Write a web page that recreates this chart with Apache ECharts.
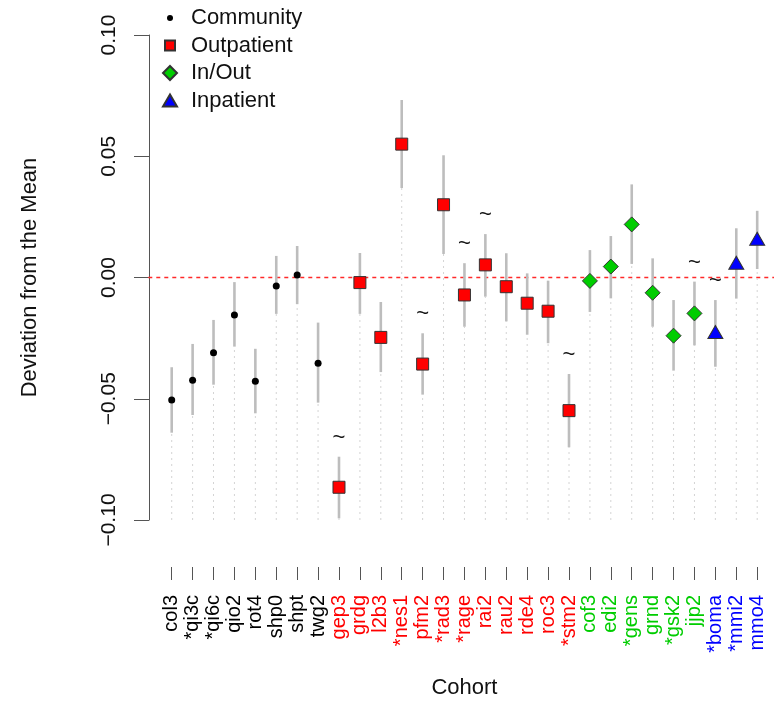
<!DOCTYPE html>
<html>
<head>
<meta charset="utf-8">
<script src="https://cdn.jsdelivr.net/npm/echarts@6/dist/echarts.min.js"></script>
<style>
html,body{margin:0;padding:0;background:#fff;}
#chart{width:774px;height:704px;}
</style>
</head>
<body>
<div id="chart"></div>
<script>
// ---- data ----
const categories = ['col3','*qi3c','*qi6c','qio2','rot4','shp0','shpt','twg2',
  'gep3','grdg','l2b3','*nes1','pfm2','*rad3','*rage','rai2','rau2','rde4','roc3','*stm2',
  'cof3','edi2','*gens','grnd','*gsk2','jjp2',
  '*boma','*mmi2','mmo4'];
const groups = ['Community','Community','Community','Community','Community','Community','Community','Community',
  'Outpatient','Outpatient','Outpatient','Outpatient','Outpatient','Outpatient','Outpatient','Outpatient','Outpatient','Outpatient','Outpatient','Outpatient',
  'In/Out','In/Out','In/Out','In/Out','In/Out','In/Out',
  'Inpatient','Inpatient','Inpatient'];
const deviation = [-0.0505,-0.0424,-0.0310,-0.0155,-0.0428,-0.0035,0.0010,-0.0354,
  -0.0865,-0.0021,-0.0247,0.0550,-0.0357,0.0300,-0.0072,0.0052,-0.0038,-0.0106,-0.0139,-0.0549,
  -0.0014,0.0045,0.0219,-0.0063,-0.0240,-0.0148,
  -0.0225,0.0061,0.0160];
const lower = [-0.0640,-0.0567,-0.0442,-0.0285,-0.0560,-0.0150,-0.0110,-0.0516,
  -0.0993,-0.0150,-0.0390,0.0369,-0.0483,0.0097,-0.0203,-0.0079,-0.0181,-0.0236,-0.0271,-0.0700,
  -0.0142,-0.0086,0.0056,-0.0203,-0.0384,-0.0280,
  -0.0368,-0.0087,0.0035];
const upper = [-0.0370,-0.0274,-0.0175,-0.0019,-0.0294,0.0089,0.0130,-0.0186,
  -0.0739,0.0101,-0.0101,0.0732,-0.0230,0.0504,0.0059,0.0179,0.0100,0.0017,-0.0013,-0.0398,
  0.0113,0.0171,0.0384,0.0079,-0.0093,-0.0017,
  -0.0093,0.0203,0.0275];
const tilde = [0,0,0,0,0,0,0,0,
  1,0,0,0,1,0,1,1,0,0,0,1,
  0,0,0,0,0,1,
  1,0,0];
const yTicks = [-0.10,-0.05,0.00,0.05,0.10];

const groupNames = ['Community','Outpatient','In/Out','Inpatient'];
const groupColor = {'Community':'#000000','Outpatient':'#ff0000','In/Out':'#00cd00','Inpatient':'#0000ff'};
const groupSymbol = {'Community':'circle','Outpatient':'rect','In/Out':'diamond','Inpatient':'triangle'};
const groupSize = {'Community':7,'Outpatient':12,'In/Out':15,'Inpatient':[15,13]};
const legendIcon = {
  'Community':'path://M0,0M16,16M5,8a3,3 0 1,0 6,0a3,3 0 1,0 -6,0z',
  'Outpatient':'path://M0,0M16,16M3,3h10v10h-10z',
  'In/Out':'path://M0,0M16,16M8,1L15,8L8,15L1,8z',
  'Inpatient':'path://M0,0M16,16M8,2L15,14L1,14z'
};

const FONT = 'Liberation Sans, Arial, sans-serif';
const yMin = yTicks[0], yMax = yTicks[yTicks.length-1];

const barData = categories.map((c,i)=>[i, lower[i], upper[i], tilde[i]]);

const scatterSeries = groupNames.map(g => ({
  name: g,
  type: 'scatter',
  symbol: groupSymbol[g],
  symbolSize: groupSize[g],
  z: 5,
  itemStyle: {
    color: groupColor[g],
    borderColor: g === 'Community' ? '#000' : '#333',
    borderWidth: g === 'Community' ? 0 : 1,
    opacity: 1
  },
  data: categories.map((c,i)=> groups[i]===g ? [i, deviation[i]] : null).filter(d=>d)
}));

const chart = echarts.init(document.getElementById('chart'), null, {renderer:'canvas'});
chart.setOption({
  backgroundColor: '#fff',
  animation: false,
  textStyle: {fontFamily: FONT},
  grid: {left: 161.25, top: 35, width: 606.4, height: 485, containLabel: false},
  legend: {
    orient: 'vertical',
    left: 156, top: 2,
    itemWidth: 16, itemHeight: 16, itemGap: 5.5,
    textStyle: {fontFamily: FONT, fontSize: 22, color: '#111', padding: [0,0,0,8]},
    data: groupNames.map(g => ({name: g, icon: legendIcon[g]}))
  },
  xAxis: {
    type: 'category',
    data: categories,
    boundaryGap: true,
    offset: 47,
    name: 'Cohort',
    nameLocation: 'middle',
    nameGap: 110,
    nameTextStyle: {fontFamily: FONT, fontSize: 22, color: '#111'},
    axisLine: {show: false, onZero: false},
    axisTick: {show: true, alignWithLabel: true, length: 13, lineStyle: {color: '#555', width: 1}},
    axisLabel: {
      interval: 0, rotate: 90, margin: 28,
      fontFamily: FONT, fontSize: 20,
      color: (v, i) => groupColor[groups[i]]
    },
    splitLine: {show: false}
  },
  yAxis: {
    type: 'value',
    min: yMin, max: yMax, interval: 0.05,
    offset: 12.25,
    name: 'Deviation from the Mean',
    nameLocation: 'middle',
    nameGap: 108,
    nameRotate: 90,
    nameTextStyle: {fontFamily: FONT, fontSize: 22, color: '#111'},
    axisLine: {show: true, onZero: false, lineStyle: {color: '#555', width: 1}},
    axisTick: {show: true, length: 15, lineStyle: {color: '#555', width: 1}},
    axisLabel: {
      rotate: 90, margin: 29, fontFamily: FONT, fontSize: 21, color: '#111',
      formatter: v => (v < 0 ? '\u2212' : '') + Math.abs(v).toFixed(2)
    },
    splitLine: {show: false}
  },
  series: [
    {
      type: 'custom',
      name: 'ref',
      z: 1,
      silent: true,
      data: [[0]],
      renderItem: function(params, api) {
        const band = api.size([1, 0])[0];
        const a = api.coord([0, 0]);
        const b = api.coord([categories.length - 1, 0]);
        return {type: 'line',
          shape: {x1: a[0] - 1.12*band, y1: a[1], x2: b[0] + 1.12*band, y2: b[1]},
          style: {stroke: '#ff2a2a', lineWidth: 1.5, lineDash: [4, 4]}};
      }
    },
    {
      type: 'custom',
      name: 'bars',
      z: 2,
      silent: true,
      data: barData,
      encode: {x: 0, y: [1, 2]},
      renderItem: function(params, api) {
        const x = api.value(0);
        const lo = api.coord([x, api.value(1)]);
        const hi = api.coord([x, api.value(2)]);
        const base = api.coord([x, yMin]);
        const children = [
          {type: 'line', shape: {x1: base[0], y1: base[1], x2: lo[0], y2: lo[1]},
            style: {stroke: '#d4d4d4', lineWidth: 1, lineDash: [2, 4]}},
          {type: 'line', shape: {x1: lo[0], y1: lo[1], x2: hi[0], y2: hi[1]},
            style: {stroke: '#bdbdbd', lineWidth: 2.6}}
        ];
        if (api.value(3)) {
          children.push({type: 'text', style: {text: '~', x: hi[0], y: hi[1] - 8,
            align: 'center', verticalAlign: 'bottom', fontSize: 22, fontFamily: FONT, fill: '#111'}});
        }
        return {type: 'group', children: children};
      }
    }
  ].concat(scatterSeries)
});
</script>
</body>
</html>
